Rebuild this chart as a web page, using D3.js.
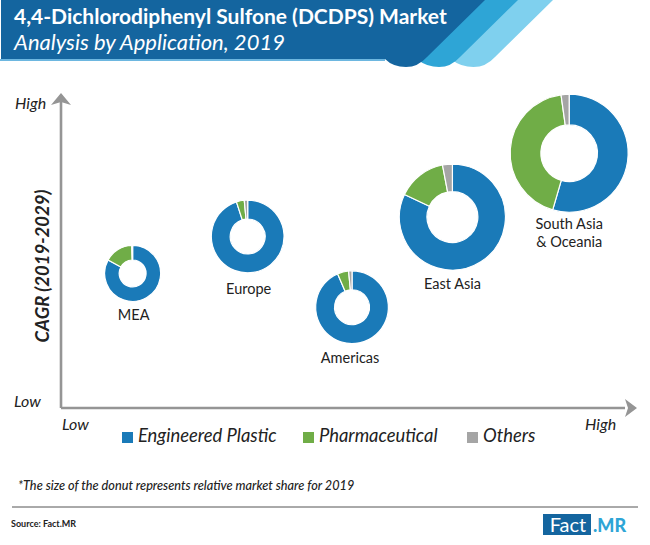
<!DOCTYPE html>
<html lang="en">
<head>
<meta charset="UTF-8">
<title>4,4-Dichlorodiphenyl Sulfone (DCDPS) Market</title>
<script src="https://d3js.org/d3.v7.min.js"></script>
<style>
html, body { margin: 0; padding: 0; background: #fff; }
svg { display: block; }
text { font-family: Lato, "Open Sans", sans-serif; fill: #222; }
</style>
</head>
<body>
<div id="chart"></div>
<script>
// values
var regions = ["MEA", "Europe", "Americas", "East Asia", "South Asia & Oceania"];
var growthPos = [43, 54.8, 32.2, 61, 81.4];       // CAGR, relative (low to high)
var sharePos = [12.7, 33.1, 51.6, 69.4, 90.1];    // x axis, relative (low to high)
var marketSize = [22.5, 38, 38, 80.7, 100];       // drives the donut area

var applications = ["Engineered Plastic", "Pharmaceutical", "Others"];
var engineeredPlastic = [83, 95, 93.5, 82, 54.5];
var pharmaceutical = [16.5, 3.5, 5, 15, 43.3];
var others = [0.5, 1.5, 1.5, 3, 2.2];

var colors = ["#1a7ab8", "#70ad47", "#a5a5a5"];

var svg = d3.select("#chart").append("svg")
    .attr("width", 650)
    .attr("height", 545);

var x = d3.scaleLinear().domain([0, 100]).range([61, 625]);
var y = d3.scaleLinear().domain([0, 100]).range([408, 95]);
var radius = d3.scaleSqrt().domain([0, 100]).range([0, 59]);

// header banner, back to front. each band has a rounded lobe at the bottom
function band(topRight, lobeRight, lobeLeft, fill) {
  var mid = (lobeRight + lobeLeft) / 2;
  svg.append("path")
    .attr("d", "M" + (lobeLeft - 60) + ",0 L" + topRight + ",0 L" + lobeRight + ",57"
      + " Q" + (lobeRight - 9) + ",67 " + mid + ",67"
      + " Q" + (lobeLeft + 9) + ",67 " + lobeLeft + ",60 Z")
    .attr("fill", fill);
}
band(553, 495, 452, "#7fd0ee");
band(518, 460, 418, "#2ea5d6");
svg.append("rect").attr("x", 0).attr("y", 59).attr("width", 385).attr("height", 2).attr("fill", "#6db7e0");
svg.append("path")
  .attr("d", "M1,0 L485,0 L427,57 Q418,67 406,67 Q393,67 385,59 L1,59 Z")
  .attr("fill", "#14659f");

svg.append("text").attr("x", 14).attr("y", 24)
  .style("font-size", "21px").style("font-weight", "bold").style("fill", "#fff")
  .text("4,4-Dichlorodiphenyl Sulfone (DCDPS) Market");
svg.append("text").attr("x", 14).attr("y", 50)
  .style("font-size", "22px").style("font-style", "italic").style("fill", "#fff")
  .text("Analysis by Application, 2019");

// axes
var axisColor = "#959595";
svg.append("path")
  .attr("d", "M" + x(0) + "," + y(0) + " L" + x(0) + "," + y(100) + " M" + x(0) + "," + y(0) + " L" + x(100) + "," + y(0))
  .attr("fill", "none").attr("stroke", axisColor).attr("stroke-width", 2.6);
svg.append("path")
  .attr("d", "M" + x(0) + ",93 L" + (x(0) + 10) + ",105 L" + x(0) + ",102 L" + (x(0) - 10) + ",105 Z")
  .attr("fill", axisColor);
svg.append("path")
  .attr("d", "M637," + y(0) + " L625," + (y(0) - 9) + " L628," + y(0) + " L625," + (y(0) + 9) + " Z")
  .attr("fill", axisColor);

function axisText(px, py, label) {
  svg.append("text").attr("x", px).attr("y", py)
    .style("font-size", "16px").style("font-style", "italic").text(label);
}
axisText(15, 109, "High");
axisText(14, 407, "Low");
axisText(62, 430, "Low");
axisText(585, 430, "High");

svg.append("text")
  .attr("transform", "translate(49,266) rotate(-90)")
  .style("text-anchor", "middle").style("font-size", "18.5px")
  .style("font-weight", "bold").style("font-style", "italic")
  .text("CAGR (2019-2029)");

// donuts
var pie = d3.pie().sort(null);
var labelNudge = { "Europe": [1, 2], "Americas": [-2, 0], "MEA": [1, 0] };

regions.forEach(function(name, i) {
  var r = radius(marketSize[i]);
  var arc = d3.arc().innerRadius(r * 0.48).outerRadius(r);
  var g = svg.append("g")
    .attr("transform", "translate(" + x(sharePos[i]) + "," + y(growthPos[i]) + ")");

  g.selectAll("path")
    .data(pie([engineeredPlastic[i], pharmaceutical[i], others[i]]))
    .enter().append("path")
      .attr("d", arc)
      .attr("fill", function(d, k) { return colors[k]; })
      .attr("stroke", "#fff")
      .attr("stroke-width", 1.2);

  // the last label breaks over two lines
  var nudge = labelNudge[name] || [0, 0];
  var lines = name === "South Asia & Oceania" ? ["South Asia", "& Oceania"] : [name];
  lines.forEach(function(line, k) {
    g.append("text")
      .attr("x", nudge[0])
      .attr("y", r + 19 + nudge[1] + k * 17.5 - (lines.length - 1) * 2)
      .style("text-anchor", "middle").style("font-size", "14.5px")
      .text(line);
  });
});

// legend
var legendX = [122, 303, 467];
applications.forEach(function(name, i) {
  svg.append("rect")
    .attr("x", legendX[i]).attr("y", 432)
    .attr("width", 11).attr("height", 11)
    .attr("fill", colors[i]);
  svg.append("text")
    .attr("x", legendX[i] + 16).attr("y", 442)
    .style("font-size", "18.4px").style("font-style", "italic")
    .text(name);
});

// footer
svg.append("text").attr("x", 18).attr("y", 490)
  .style("font-size", "12.7px").style("font-style", "italic").style("font-weight", "500")
  .text("*The size of the donut represents relative market share for 2019");
svg.append("line")
  .attr("x1", 12).attr("x2", 638).attr("y1", 507).attr("y2", 507)
  .attr("stroke", "#555").attr("stroke-width", 1);
svg.append("text").attr("x", 11).attr("y", 527)
  .style("font-size", "9px").style("font-weight", "bold")
  .text("Source: Fact.MR");

// logo
svg.append("rect").attr("x", 543).attr("y", 514).attr("width", 48).attr("height", 21).attr("fill", "#14659f");
svg.append("text").attr("x", 568).attr("y", 532)
  .style("text-anchor", "middle").style("font-size", "20px").style("fill", "#fff")
  .text("Fact");
svg.append("text").attr("x", 593).attr("y", 532)
  .style("font-size", "18px").style("font-weight", "900").style("fill", "#2ea5d6")
  .text(".MR");
</script>
</body>
</html>
